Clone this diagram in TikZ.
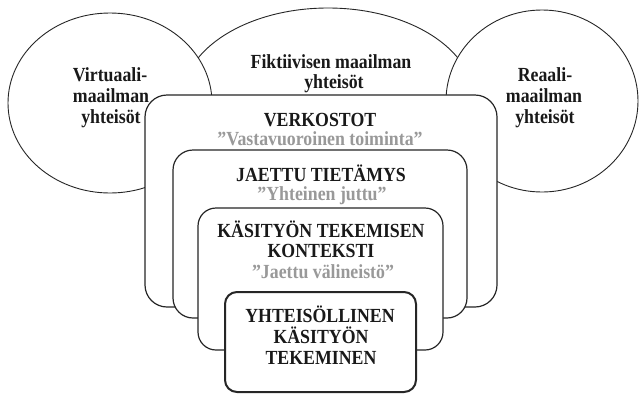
\documentclass[tikz,border=0pt]{standalone}
\usepackage{fontspec}
\setmainfont{Liberation Serif}
\newfontfamily\tallserif[FakeStretch=0.89]{Liberation Serif}
\usetikzlibrary{shapes.geometric}
\begin{document}
\begin{tikzpicture}[x=1pt,y=-1pt,
  world/.style={ellipse, draw=black!85, fill=white, line width=0.9pt, inner sep=0pt},
  box/.style={draw=black!85, fill=white, rounded corners=#1, line width=1.2pt, inner sep=0pt},
  lbl/.style={anchor=base, font=\tallserif\fontsize{20}{21}\selectfont\bfseries, text=black!90, inner sep=0pt},
  qlbl/.style={anchor=base, font=\tallserif\fontsize{20}{21}\selectfont\bfseries, text=black!40, inner sep=0pt}]
\useasboundingbox (0,0) rectangle (640,394);
% worlds
\node[world, minimum width=292pt, minimum height=184pt] (fikt) at (328,100) {};
\node[world, minimum width=204pt, minimum height=180pt] (virt) at (110,103) {};
\node[world, minimum width=192pt, minimum height=182pt] (real) at (542,101) {};
\node[lbl] (tvirt1) at (110,81) {Virtuaali-};
\node[lbl] (tvirt2) at (111,102) {maailman};
\node[lbl] (tvirt3) at (111,123) {yhteisöt};
\node[lbl] (tfikt1) at (331,68) {Fiktiivisen maailman};
\node[lbl] (tfikt2) at (334,88) {yhteisöt};
\node[lbl] (treal1) at (545,81) {Reaali-};
\node[lbl] (treal2) at (544,102) {maailman};
\node[lbl] (treal3) at (545,123) {yhteisöt};
% nested boxes
\node[box=22pt, minimum width=352pt, minimum height=212pt] (verk) at (321,201) {};
\node[box=20pt, minimum width=294pt, minimum height=168pt] (jaet) at (320,234) {};
\node[box=18pt, minimum width=245pt, minimum height=142pt] (kasi) at (320.5,279) {};
\node[box=12pt, line width=2pt, minimum width=191pt, minimum height=100pt] (yht) at (320.5,342) {};
% labels
\node[lbl, text depth=0pt] (tverk) at (320,126) {VERKOSTOT};
\node[qlbl] (qverk) at (320,145) {”Vastavuoroinen toiminta”};
\node[lbl, text depth=0pt] (tjaet) at (321,181) {JAETTU TIETÄMYS};
\node[qlbl] (qjaet) at (322,200) {”Yhteinen juttu”};
\node[lbl, text depth=0pt] (tkasi1) at (321,237) {KÄSITYÖN TEKEMISEN};
\node[lbl, text depth=0pt] (tkasi2) at (321,257) {KONTEKSTI};
\node[qlbl] (qkasi) at (323,278) {”Jaettu välineistö”};
\node[lbl, text depth=0pt] (tyht1) at (320,322) {YHTEISÖLLINEN};
\node[lbl, text depth=0pt] (tyht2) at (321,343) {KÄSITYÖN};
\node[lbl, text depth=0pt] (tyht3) at (321,364) {TEKEMINEN};
\end{tikzpicture}
\end{document}
